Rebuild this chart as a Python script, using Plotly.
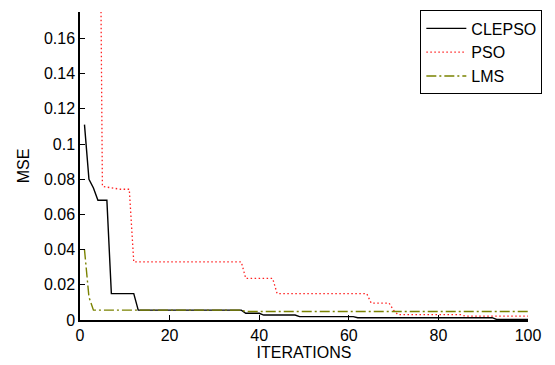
import plotly.graph_objects as go

iterations = list(range(1, 101))

# CLEPSO values per iteration
clepso = ([0.111, 0.080, 0.075, 0.068, 0.068, 0.068, 0.015, 0.015, 0.015, 0.015, 0.015, 0.015]
          + [0.0056] * 24            # 13..36
          + [0.0038] * 4             # 37..40
          + [0.0028] * 8             # 41..48
          + [0.0019] * 13            # 49..61
          + [0.0013] * 31            # 62..92
          + [0.0003] * 8)            # 93..100

# PSO values per iteration
pso = ([0.60, 0.50, 0.45, 0.40, 0.076, 0.0755, 0.075, 0.0745, 0.0743, 0.0743, 0.0743]
       + [0.033] * 25              # 12..36
       + [0.0236] * 7              # 37..43
       + [0.015] * 21              # 44..64
       + [0.0096] * 5              # 65..69
       + [0.0055]                  # 70
       + [0.003] * 15              # 71..85
       + [0.0022] * 15)            # 86..100

# LMS values per iteration
lms = ([0.040, 0.013]
       + [0.0056] * 34             # 3..36
       + [0.0048] * 64)            # 37..100

series_names = ["CLEPSO", "PSO", "LMS"]

fig = go.Figure()
fig.add_trace(go.Scatter(x=iterations, y=clepso, mode="lines", name=series_names[0],
                         line=dict(color="black", width=1.4)))
fig.add_trace(go.Scatter(x=iterations, y=pso, mode="lines", name=series_names[1],
                         line=dict(color="#ff2020", width=1.3, dash="1.5px,2.5px")))
fig.add_trace(go.Scatter(x=iterations, y=lms, mode="lines", name=series_names[2],
                         line=dict(color="#7a8200", width=1.4, dash="10px,3px,2px,3px")))

font = dict(family="Liberation Sans, Arial, sans-serif", size=16, color="black")

fig.update_layout(
    width=555, height=365,
    margin=dict(l=80, r=27, t=10, b=45),
    paper_bgcolor="white", plot_bgcolor="white",
    font=font,
    showlegend=True,
    legend=dict(x=1.032, xanchor="right", y=1.005, yanchor="top",
                bordercolor="black", borderwidth=1, bgcolor="white",
                font=font, tracegroupgap=0, itemwidth=40),
    xaxis=dict(range=[0, 100], tickvals=[0, 20, 40, 60, 80, 100],
               ticks="inside", ticklen=5, tickcolor="black", tickwidth=1,
               showline=True, linecolor="black", linewidth=1.5,
               showgrid=False, zeroline=False, automargin=False,
               title=dict(text="ITERATIONS", font=font, standoff=4)),
    yaxis=dict(range=[0, 0.175],
               tickvals=[0, 0.02, 0.04, 0.06, 0.08, 0.1, 0.12, 0.14, 0.16],
               ticktext=["0", "0.02", "0.04", "0.06", "0.08", "0.1", "0.12", "0.14", "0.16"],
               ticks="inside", ticklen=5, tickcolor="black", tickwidth=1,
               showline=True, linecolor="black", linewidth=1.5,
               showgrid=False, zeroline=False, automargin=False,
               title=dict(text="MSE", font=font, standoff=10)),
)

fig.write_html("out.html")
